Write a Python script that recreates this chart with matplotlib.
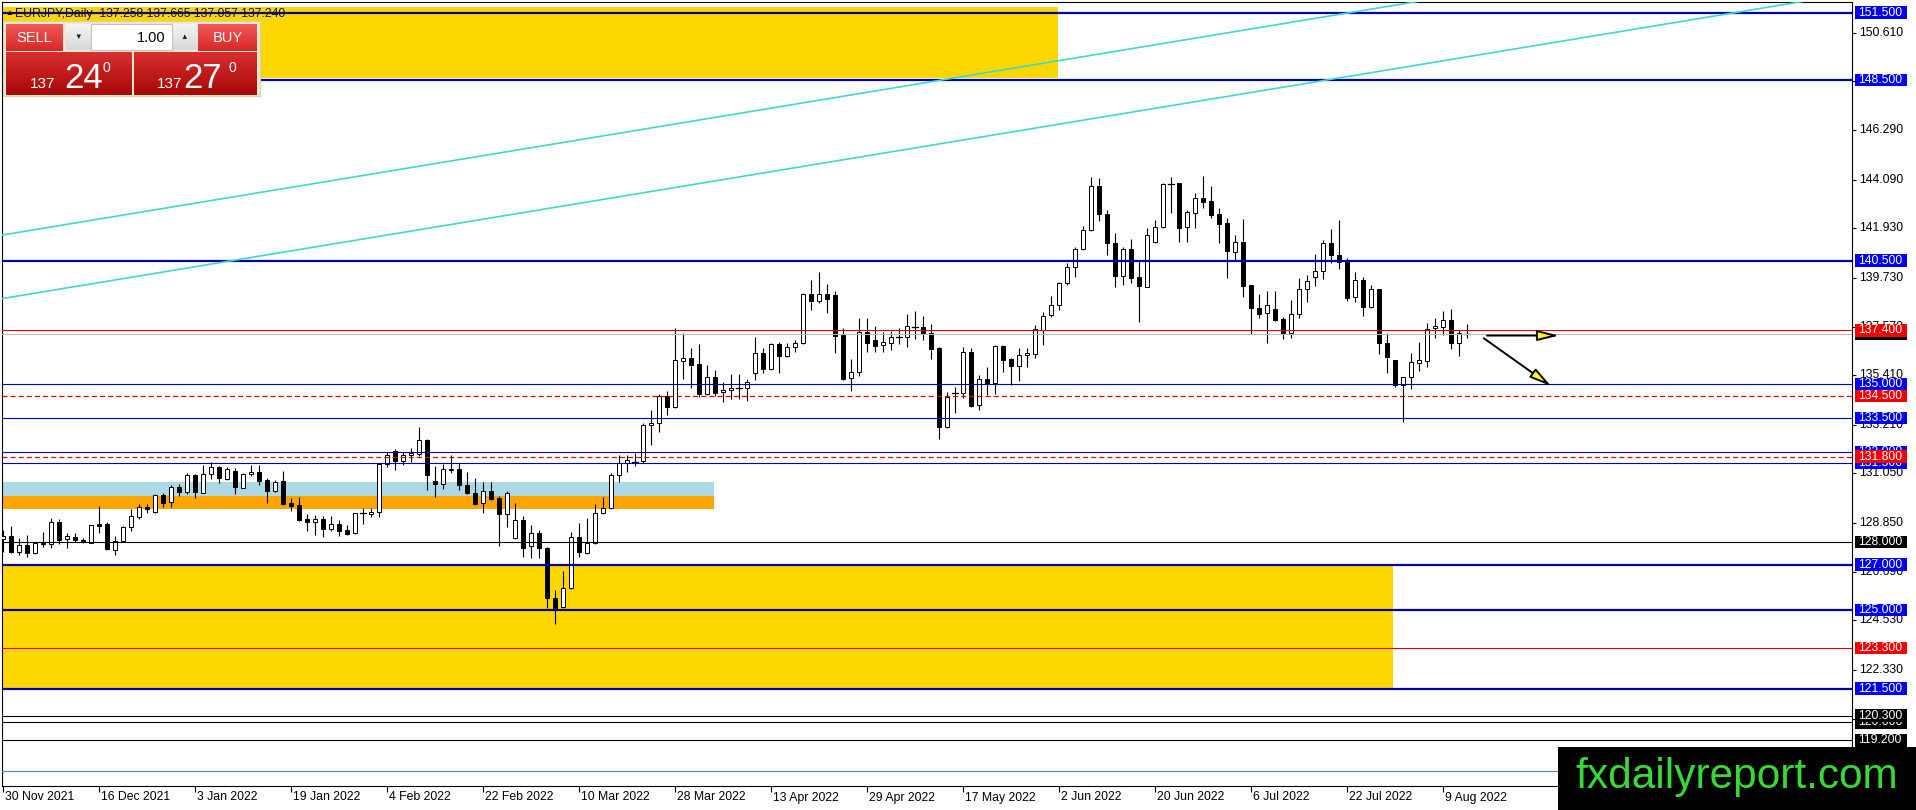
import numpy as np
import matplotlib
matplotlib.use('Agg')
import matplotlib.pyplot as plt
from matplotlib.patches import Rectangle
from matplotlib.transforms import Affine2D, blended_transform_factory
from matplotlib.colors import LinearSegmentedColormap

plt.rcParams['font.family'] = ['Liberation Sans', 'DejaVu Sans']

W, H, DPI = 1916, 810, 100

# ---------------- data ----------------
opens = [128.13,128.28,127.58,127.88,127.51,127.91,127.91,128.88,128.13,128.23,
         128.10,127.98,128.81,128.79,127.65,128.07,128.67,129.13,129.58,129.36,
         130.09,129.77,130.46,130.24,130.97,130.20,131.01,131.32,130.82,131.16,
         130.42,131.03,131.12,130.76,130.29,130.72,129.73,129.64,129.03,128.88,
         129.03,128.60,128.79,128.54,128.39,129.28,129.24,129.33,131.46,132.06,
         131.62,131.85,131.92,132.54,130.72,130.57,131.22,131.25,130.53,130.17,
         129.73,130.25,129.94,129.24,128.17,128.99,127.81,128.40,127.73,125.51,
         125.11,125.96,128.25,127.54,127.95,129.28,129.51,130.96,131.50,131.56,
         131.58,133.20,133.28,134.50,133.99,136.06,136.16,135.91,134.58,135.32,
         134.65,134.74,134.82,134.83,135.50,136.38,135.67,136.78,136.24,136.68,
         136.86,139.00,138.72,139.00,138.96,137.20,135.27,135.54,137.34,136.97,
         136.74,136.86,137.10,137.12,137.54,137.54,137.30,136.62,133.13,134.61,
         134.64,136.43,134.09,135.23,135.08,136.71,136.12,135.84,136.31,136.34,
         137.42,138.08,138.53,139.49,140.20,141.00,141.85,143.81,142.57,141.26,
         139.83,141.03,139.76,139.34,141.34,141.97,143.90,143.93,141.97,142.60,
         143.29,143.14,142.55,142.15,140.86,141.31,139.42,138.38,138.16,138.34,
         137.91,137.30,138.11,139.22,139.75,140.05,141.26,140.75,140.52,138.90,
         139.64,138.45,139.25,136.86,136.09,134.98,135.35,135.97,136.06,137.49,
         137.57,137.86,136.86,137.258]
highs = [128.54,128.73,128.17,128.32,128.02,128.44,129.09,129.03,128.42,128.42,
         128.17,128.77,129.61,128.91,128.28,128.72,129.46,129.71,129.71,130.14,
         130.17,130.54,130.58,131.06,131.03,131.43,131.56,131.40,131.32,131.31,
         131.09,131.41,131.41,130.83,130.76,131.16,129.95,130.02,129.25,129.22,
         129.18,129.16,128.97,128.75,129.31,129.50,129.50,131.50,132.02,132.12,
         132.02,132.17,133.13,132.60,131.36,131.47,131.87,131.50,131.12,130.84,
         130.69,130.69,130.05,130.25,129.73,129.17,128.77,128.54,127.78,125.88,
         126.70,128.43,128.84,129.06,129.70,129.99,131.09,131.87,131.87,131.95,
         133.28,133.87,134.56,134.73,137.49,137.30,136.60,136.78,135.87,135.64,
         135.11,135.47,135.47,135.23,137.09,136.60,136.83,136.90,136.86,136.98,
         139.05,139.64,139.98,139.46,139.16,137.49,136.13,137.94,137.94,137.60,
         137.34,137.37,137.49,138.13,138.28,138.05,137.68,136.68,134.68,134.90,
         136.65,136.60,135.42,135.76,136.75,136.75,136.16,136.60,136.60,137.64,
         138.20,138.94,139.53,140.38,141.09,142.03,144.22,144.15,142.74,141.71,
         141.12,141.44,140.52,141.93,142.30,143.93,144.22,143.96,142.74,143.48,
         144.25,143.81,142.82,142.37,141.63,142.34,139.42,139.00,139.15,139.15,
         138.01,138.75,139.71,139.86,140.78,141.41,141.90,142.30,140.63,140.01,
         139.78,139.42,139.25,137.27,136.09,135.35,136.38,136.90,137.71,137.94,
         138.26,138.34,137.42,137.665]
lows = [127.58,127.51,127.43,127.33,127.46,127.80,127.76,127.91,127.76,128.02,
        127.95,127.95,128.39,127.65,127.45,127.99,128.51,129.04,129.28,129.31,
        129.58,129.58,130.05,130.12,129.98,130.20,130.79,130.61,130.76,130.14,
        130.39,130.94,130.54,129.73,130.24,129.65,129.38,128.96,128.51,128.33,
        128.22,128.51,128.29,128.31,128.36,128.81,129.13,129.13,131.35,131.20,
        131.43,131.57,131.83,130.32,129.99,130.38,131.06,130.32,130.14,129.65,
        129.31,129.88,127.85,128.69,128.15,127.32,127.29,127.29,125.07,124.37,
        125.07,125.91,127.36,127.48,127.92,129.25,129.46,130.69,131.13,131.36,
        131.50,132.29,132.91,133.65,133.94,135.24,134.83,134.46,134.52,134.49,
        134.24,134.36,134.36,134.28,135.20,135.50,135.64,135.50,136.21,136.43,
        136.80,138.31,138.63,138.16,136.41,135.20,134.73,135.38,136.46,136.46,
        136.46,136.53,136.78,136.68,137.00,136.97,136.13,132.58,133.06,133.72,
        134.42,134.02,133.87,134.53,134.58,135.53,134.98,135.15,135.79,136.19,
        136.75,138.01,138.31,139.42,139.79,140.97,141.83,142.27,140.75,139.34,
        139.42,139.49,137.79,139.31,141.29,141.93,142.62,141.34,141.34,141.96,
        142.82,142.40,141.29,139.74,140.52,138.90,137.23,137.94,136.83,137.83,
        137.00,137.08,137.94,138.68,139.37,139.67,140.38,140.11,138.72,138.68,
        138.05,138.41,136.35,135.50,134.90,133.35,134.79,135.60,135.76,137.05,
        137.20,136.56,136.24,137.057]
closes = [128.28,127.58,127.86,127.54,127.98,127.98,128.88,128.10,128.28,128.08,
          128.02,128.75,128.73,127.71,128.05,128.69,129.15,129.55,129.46,130.08,
          129.75,130.44,130.24,130.97,130.24,131.03,131.32,130.83,131.26,130.44,
          131.03,131.12,130.73,130.29,130.67,129.70,129.62,128.99,128.88,129.04,
          128.60,128.79,128.51,128.38,129.28,129.31,129.34,131.46,131.87,131.62,
          131.85,131.97,132.54,130.96,130.57,131.24,131.26,130.53,130.17,129.68,
          130.25,129.91,129.24,130.17,128.99,127.76,128.40,127.73,125.51,125.07,
          125.96,128.25,127.55,127.95,129.28,129.51,130.96,131.50,131.64,131.59,
          133.20,133.28,134.50,134.02,136.09,136.16,135.88,134.56,135.32,134.61,
          134.76,134.85,134.85,135.10,136.38,135.67,136.78,136.24,136.68,136.86,
          139.00,138.72,139.00,138.78,137.17,135.23,135.54,137.34,136.83,136.72,
          136.87,137.09,137.13,137.60,137.57,137.30,136.59,133.13,134.46,134.64,
          136.43,134.05,135.23,135.01,136.71,136.09,135.82,136.31,136.41,137.45,
          138.04,138.53,139.49,140.23,141.01,141.85,143.81,142.55,141.26,139.83,
          141.03,139.74,139.37,141.62,141.97,143.90,143.93,141.96,142.64,143.29,
          143.11,142.52,142.12,140.94,141.31,139.39,138.38,138.13,138.53,137.86,
          137.30,138.11,139.22,139.61,140.05,141.26,140.75,140.45,138.85,139.64,
          138.45,139.22,136.83,136.21,134.98,135.35,135.98,136.09,137.45,137.60,
          137.86,136.83,137.30,137.240]

date_labels = ['30 Nov 2021', '16 Dec 2021', '3 Jan 2022', '19 Jan 2022', '4 Feb 2022',
               '22 Feb 2022', '10 Mar 2022', '28 Mar 2022', '13 Apr 2022', '29 Apr 2022',
               '17 May 2022', '2 Jun 2022', '20 Jun 2022', '6 Jul 2022', '22 Jul 2022',
               '9 Aug 2022']
date_label_bars = [0, 12, 24, 36, 48, 60, 72, 84, 96, 108, 120, 132, 144, 156, 168, 180]

price_ticks = [150.61, 148.45, 146.29, 144.09, 141.93, 139.73, 137.57, 135.41, 133.21,
               131.05, 128.85, 126.69, 124.53, 122.33, 120.17, 118.01]

level_prices = [151.5, 148.5, 140.5, 137.4, 135.0, 134.5, 133.5, 132.0, 131.8, 131.5,
                128.0, 127.0, 125.0, 123.3, 121.5, 120.3, 120.0, 119.2]
level_kinds = ['bthick', 'bthick', 'bthick', 'red', 'blue', 'rdash', 'blue', 'blue', 'rdash', 'blue',
               'black', 'bthick', 'bthick', 'red', 'bthick', 'black', 'black', 'black']

bid_price = 137.24
bottom_line_price = 117.84

# zones: (bar from, bar to, price low, price high, colour)
zone_x0 = [-2, -2, -2, -2]
zone_x1 = [131.9, 88.9, 88.9, 173.8]
zone_lo = [148.6, 130.07, 129.48, 121.5]
zone_hi = [151.75, 130.68, 130.07, 127.0]
zone_col = ['#FFD700', '#ADD8E6', '#FFA500', '#FFD700']

# trend lines (bar, price) endpoints
trend_x = [(-2, 240), (-2, 240)]
trend_y = [(141.52, 155.70), (138.70, 152.88)]

# arrows: start (bar, price), end (bar, price)
arrow_start = [(185.5, 137.17), (185.1, 137.05)]
arrow_end = [(194.5, 137.17), (193.5, 134.93)]

header_text = 'EURJPY,Daily  137.258 137.665 137.057 137.240'

# ---------------- figure ----------------
fig = plt.figure(figsize=(W / DPI, H / DPI), dpi=DPI)
px = Affine2D().scale(1.0 / W, -1.0 / H).translate(0, 1) + fig.transFigure

ax = fig.add_axes([2 / W, 1 - 786 / H, 1850 / W, 784 / H])
ax.set_xlim(-0.125, 231.125)
ax.set_ylim(117.177, 151.974)
for s in ax.spines.values():
    s.set_color('black')
    s.set_linewidth(0.8)

# zones
for x0, x1, lo, hi, c in zip(zone_x0, zone_x1, zone_lo, zone_hi, zone_col):
    ax.add_patch(Rectangle((x0, lo), x1 - x0, hi - lo, fc=c, ec='none', zorder=1))

# candles
n = len(opens)
for i in range(n):
    o, h, l, c = opens[i], highs[i], lows[i], closes[i]
    ax.plot([i, i], [l, h], color='black', lw=0.8, zorder=3, solid_capstyle='butt')
    if abs(c - o) < 0.035:
        ax.plot([i - 0.32, i + 0.32], [o, o], color='black', lw=0.9, zorder=4)
    else:
        fc = 'white' if c > o else 'black'
        ax.add_patch(Rectangle((i - 0.31, min(o, c)), 0.62, abs(c - o), fc=fc, ec='black',
                               lw=0.7, zorder=4))

# horizontal levels
style = {
    'bthick': dict(color='#0000a8', lw=1.6, ls='-'),
    'blue': dict(color='#0000b4', lw=0.8, ls='-'),
    'red': dict(color='#e00000', lw=0.8, ls='-'),
    'rdash': dict(color='#dd0000', lw=0.9, ls=(0, (4, 2.5))),
    'black': dict(color='black', lw=0.8, ls='-'),
}
for p, k in zip(level_prices, level_kinds):
    ax.axhline(p, zorder=5, **style[k])
ax.axhline(bid_price, color='#b8b8b8', lw=0.8, zorder=4.5)
ax.axhline(bottom_line_price, color='#4f86aa', lw=0.8, zorder=4.5)

# trend lines
for xs, ys in zip(trend_x, trend_y):
    ax.plot(xs, ys, color='#40d8c8', lw=1.2, zorder=5)

# arrows
for (xs, ys), (xe, ye) in zip(arrow_start, arrow_end):
    ax.annotate('', xy=(xe, ye), xytext=(xs, ys), zorder=6,
                arrowprops=dict(arrowstyle='-|>,head_length=1.3,head_width=0.32',
                                fc='#ffff00', ec='black', lw=1.4, shrinkA=0, shrinkB=0))

# ticks
ax.set_xticks(date_label_bars)
ax.tick_params(axis='x', length=4, width=0.8, labelbottom=False, direction='out')
ax.yaxis.tick_right()
ax.set_yticks(price_ticks)
ax.tick_params(axis='y', length=3, width=0.8, labelright=False, labelleft=False, direction='out')

bt_x = blended_transform_factory(ax.transData, ax.transAxes)
for b, lab in zip(date_label_bars, date_labels):
    ax.text(b + 0.3, -11.5 / 784, lab, transform=bt_x, ha='left', va='center',
            fontsize=8.8, color='black', clip_on=False)

bt_y = blended_transform_factory(ax.transAxes, ax.transData)
ppx = 784 / (151.974 - 117.177)
for p in price_ticks:
    ax.text(1 + 7.5 / 1850, p, '%.3f' % p, transform=bt_y, ha='left', va='center',
            fontsize=8.8, color='black', clip_on=False, zorder=8)

label_bg = {'bthick': '#0000f0', 'blue': '#0000f0', 'red': '#f00000', 'rdash': '#f00000', 'black': '#000000'}
label_z = {'bthick': 10, 'blue': 10, 'black': 11, 'red': 12, 'rdash': 12}


def price_label(p, bg, z):
    ax.add_patch(Rectangle((1 + 2.5 / 1850, p - 6.2 / ppx), 52 / 1850, 12.4 / ppx, transform=bt_y,
                           fc=bg, ec='none', clip_on=False, zorder=z))
    ax.text(1 + 6.5 / 1850, p, '%.3f' % p, transform=bt_y, ha='left', va='center',
            fontsize=8.8, color='white', clip_on=False, zorder=z + 0.05)


price_label(bid_price, '#000000', 10.5)
for j, (p, k) in enumerate(zip(level_prices, level_kinds)):
    z = label_z[k] + (0.3 if p == 120.3 else 0) + j * 0.001
    price_label(p, label_bg[k], z)

# header
fig.text(5, 13.5, '\u25b2', transform=px, fontsize=5.5, va='center', ha='left', color='black', zorder=7)
fig.text(15, 13.5, header_text, transform=px, fontsize=8.8, va='center', ha='left',
         color='#101018', zorder=7)


# ---------------- trade panel ----------------
def grad_box(x0, y0, x1, y1, ctop, cbot):
    a = fig.add_axes([x0 / W, 1 - y1 / H, (x1 - x0) / W, (y1 - y0) / H])
    cm = LinearSegmentedColormap.from_list('g', [ctop, cbot])
    a.imshow(np.linspace(0, 1, 64).reshape(-1, 1), cmap=cm, aspect='auto',
             interpolation='bilinear', extent=(0, 1, 0, 1))
    a.set_axis_off()
    return a


frame = fig.add_axes([3 / W, 1 - 96 / H, 257 / W, 75 / H])
frame.set_facecolor('#efe7d0')
frame.set_xticks([])
frame.set_yticks([])
for s in frame.spines.values():
    s.set_color('#d8ceb0')

grad_box(6, 24, 63, 51, '#f25a5a', '#d82626')
grad_box(198, 24, 257, 51, '#f25a5a', '#d82626')
grad_box(6, 52, 131, 95, '#d83030', '#a80808')
grad_box(134, 52, 257, 95, '#d83030', '#a80808')
grad_box(66, 24, 91, 50, '#f4f4f4', '#d8d8d8')
grad_box(172, 24, 197, 50, '#f4f4f4', '#d8d8d8')
fld = fig.add_axes([91 / W, 1 - 50 / H, 81 / W, 26 / H])
fld.set_facecolor('white')
fld.set_xticks([])
fld.set_yticks([])
for s in fld.spines.values():
    s.set_color('#c0c0c0')

fig.text(34.5, 38, 'SELL', transform=px, fontsize=10.5, color='white', ha='center', va='center', zorder=7)
fig.text(227.5, 38, 'BUY', transform=px, fontsize=10.5, color='white', ha='center', va='center', zorder=7)
fig.text(78.5, 37.5, '\u25bc', transform=px, fontsize=5.5, color='#202020', ha='center', va='center', zorder=7)
fig.text(184.5, 37.5, '\u25b2', transform=px, fontsize=5.5, color='#202020', ha='center', va='center', zorder=7)
fig.text(166, 37.5, '1.00', transform=px, fontsize=10.5, color='black', ha='right', va='center', zorder=7)
fig.text(30, 87.5, '137', transform=px, fontsize=11, color='white', ha='left', va='baseline', zorder=7)
fig.text(64, 87.5, '24', transform=px, fontsize=25, color='white', ha='left', va='baseline', zorder=7)
fig.text(102.5, 72, '0', transform=px, fontsize=10, color='white', ha='left', va='baseline', zorder=7)
fig.text(157, 87.5, '137', transform=px, fontsize=11, color='white', ha='left', va='baseline', zorder=7)
fig.text(183, 87.5, '27', transform=px, fontsize=25, color='white', ha='left', va='baseline', zorder=7)
fig.text(229, 72, '0', transform=px, fontsize=10, color='white', ha='left', va='baseline', zorder=7)

# ---------------- watermark ----------------
fig.add_artist(Rectangle((1558, 747), 358, 63, transform=px, fc='black', ec='none', zorder=8))
fig.text(1575, 788, 'fxdailyreport.com', transform=px, color='#38d838', fontsize=30.5,
         ha='left', va='baseline', zorder=9)

fig.savefig('out.png', dpi=DPI)
